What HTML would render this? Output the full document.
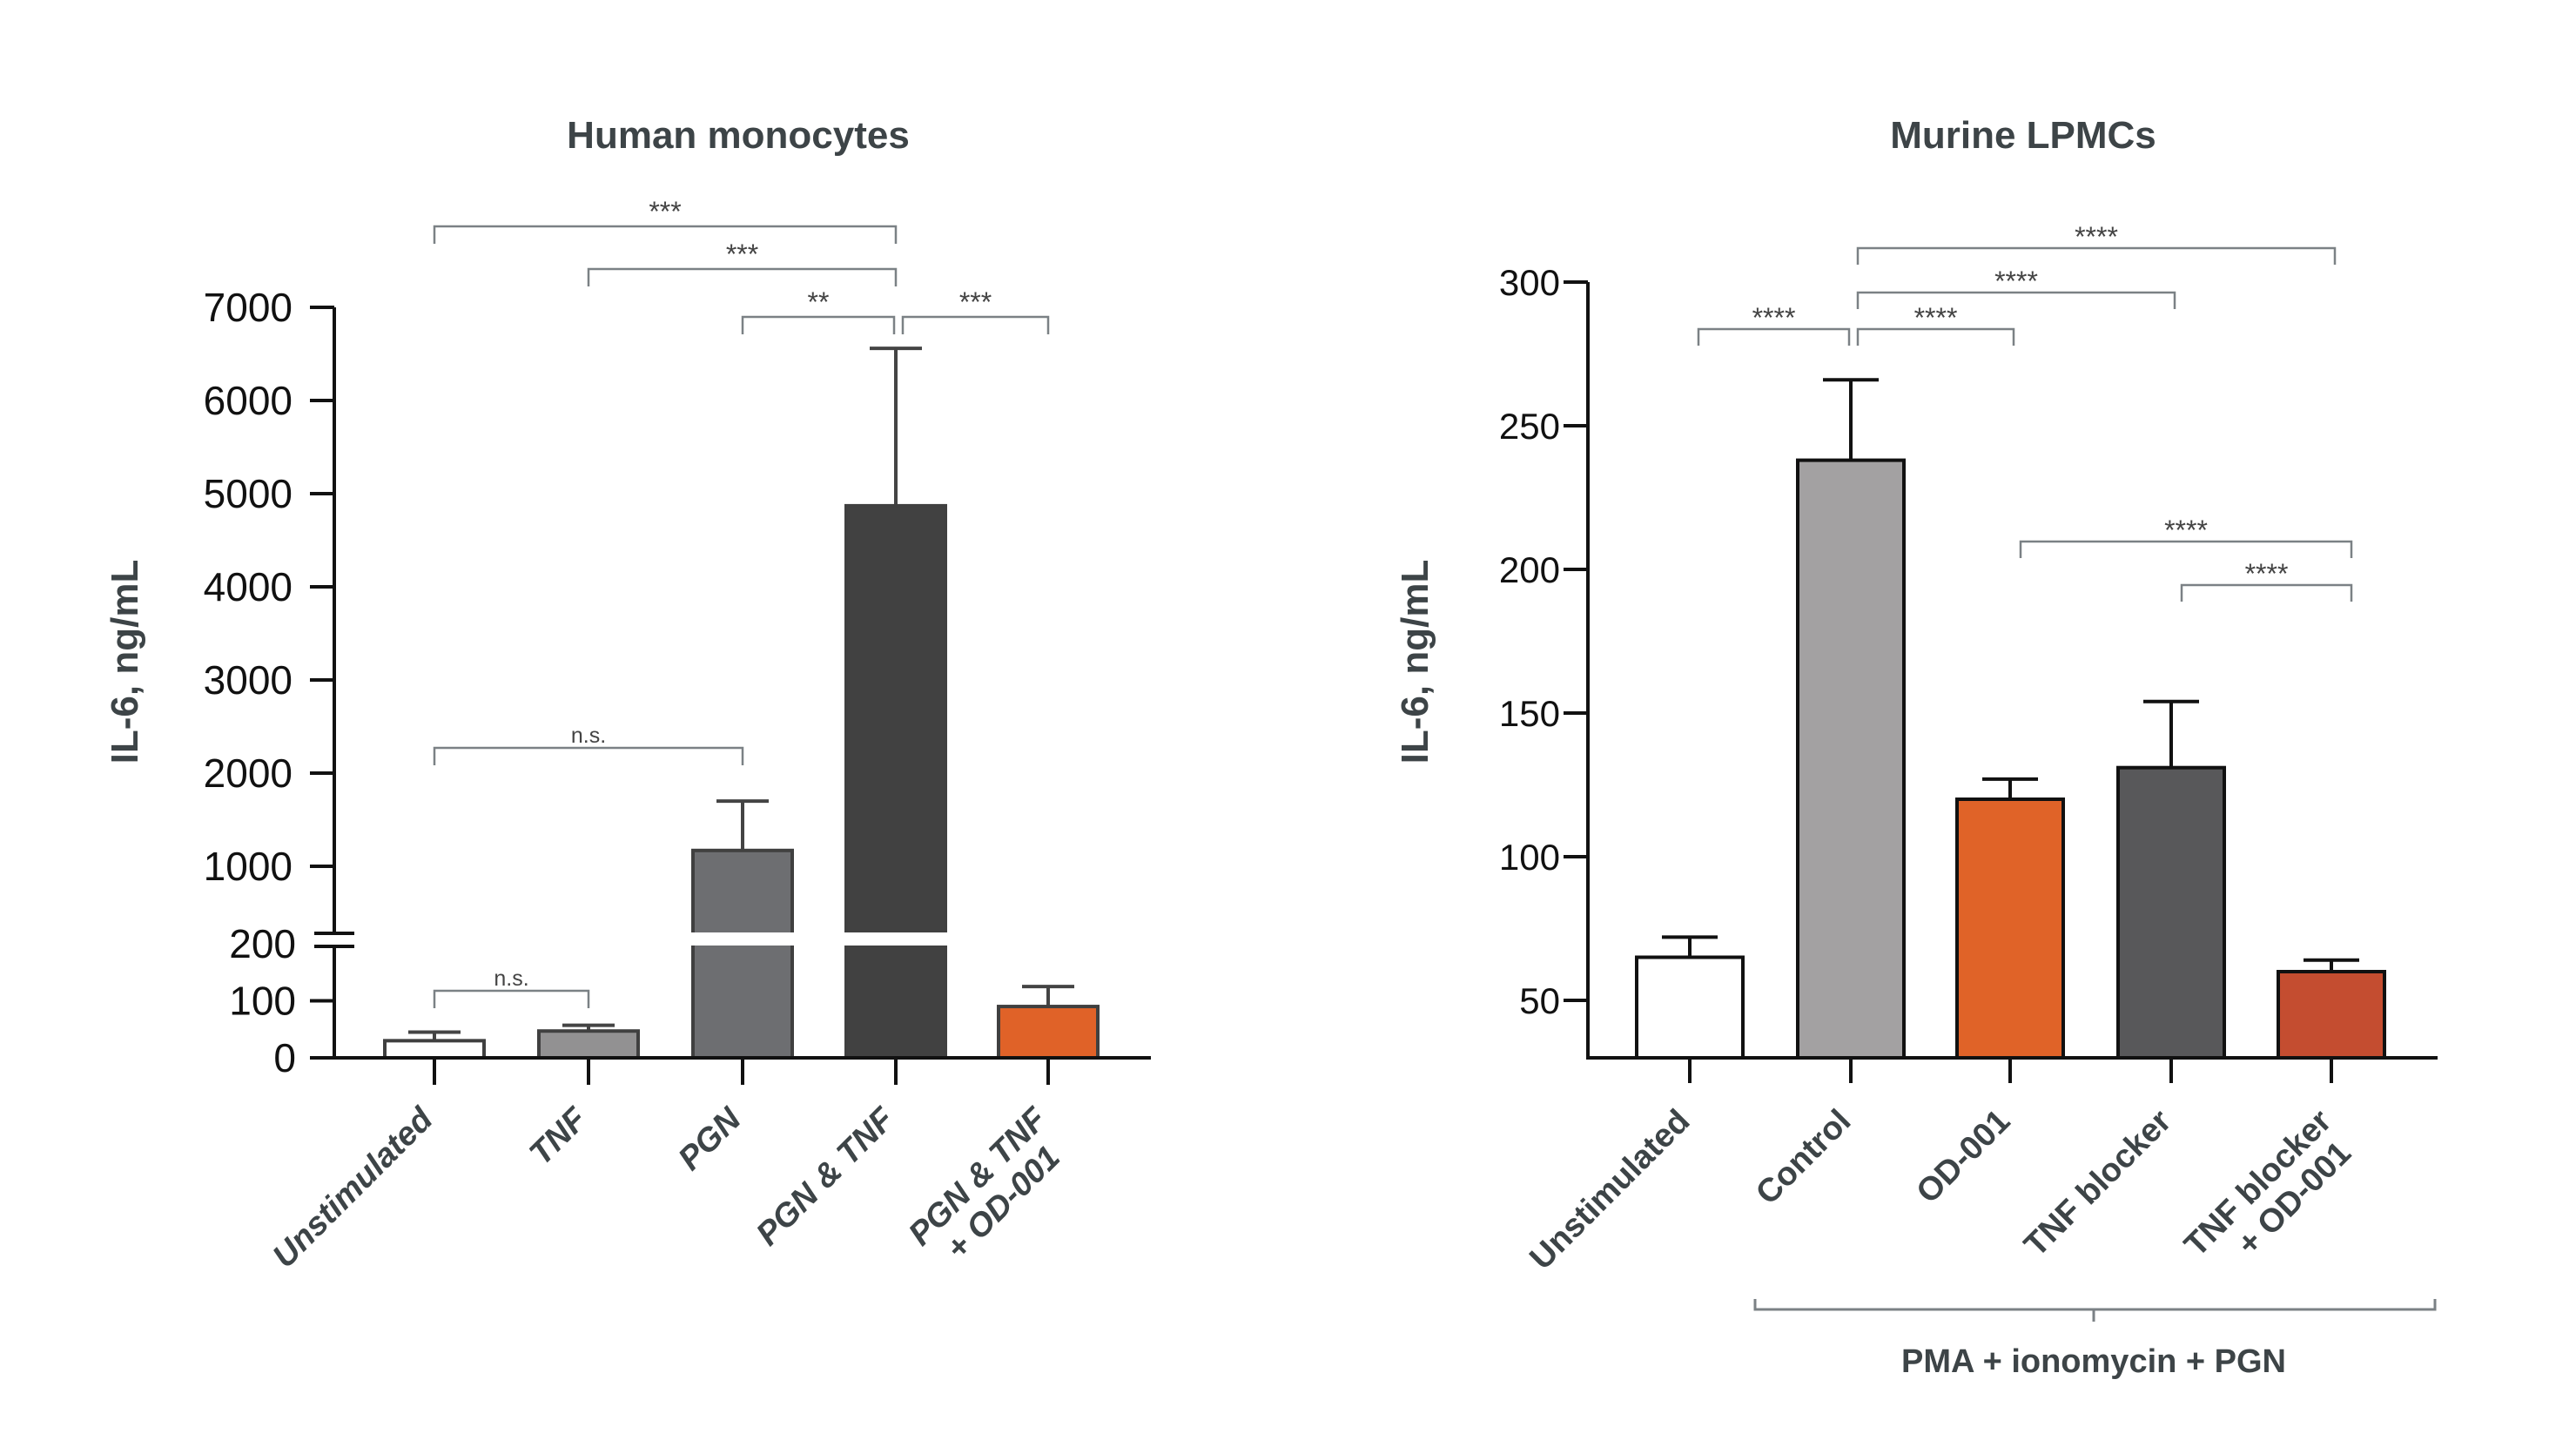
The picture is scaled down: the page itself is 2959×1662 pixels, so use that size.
<!DOCTYPE html>
<html><head><meta charset="utf-8">
<style>
html,body{margin:0;padding:0;background:#fff;}
svg{display:block;font-family:"Liberation Sans",Arial,sans-serif;}
</style></head>
<body>
<svg id="chart" width="2959" height="1662" viewBox="0 0 2959 1662" xmlns="http://www.w3.org/2000/svg"></svg>
<script>
// ---- Left chart data (Human monocytes) ----
const leftCategories = ["Unstimulated", "TNF", "PGN", "PGN & TNF", "PGN & TNF|+ OD-001"];
const leftValues = [30, 47, 1170, 4870, 90];
const leftErrors = [45, 57, 1700, 6560, 125];
const leftLowTicks = [0, 100, 200];
const leftHighTicks = [1000, 2000, 3000, 4000, 5000, 6000, 7000];
const leftSig = [["***", 0, 3], ["***", 1, 3], ["**", 2, 3], ["***", 4, 3], ["n.s.", 0, 2], ["n.s.", 0, 1]];
// ---- Right chart data (Murine LPMCs) ----
const rightCategories = ["Unstimulated", "Control", "OD-001", "TNF blocker", "TNF blocker|+ OD-001"];
const rightValues = [65, 238, 120, 131, 60];
const rightErrors = [72, 266, 127, 154, 64];
const rightTicks = [50, 100, 150, 200, 250, 300];
const rightSig = [["****", 0, 1], ["****", 1, 2], ["****", 1, 3], ["****", 1, 4], ["****", 2, 4], ["****", 3, 4]];

const svg = document.getElementById('chart');
const NS = "http://www.w3.org/2000/svg";
function mk(tag, attrs, parent) {
  const e = document.createElementNS(NS, tag);
  for (const k in attrs) e.setAttribute(k, attrs[k]);
  (parent || svg).appendChild(e);
  return e;
}
const TXT = "#3d4447", BR = "#7b8185";

// ===== LEFT =====
const L = {ax: 384, x0: 371, x1: 1322, base: 1215, centers: [499, 676, 853, 1029, 1204], bw: 114};
function lyLow(v) { return 1215 - v * 0.655; }
function lyHigh(v) { return 995 - (v - 1000) * 0.1070; }
function ly(v) { return v <= 200 ? lyLow(v) : lyHigh(v); }
const leftColors = ["#ffffff", "#929192", "#6d6e71", "#414141", "#e06228"];
const lg = mk('g', {});


let t = mk('text', {x: 848, y: 170, 'text-anchor': 'middle', 'font-size': 44, 'font-weight': 'bold', fill: TXT}, lg);
t.textContent = "Human monocytes";
 
t = mk('text', {x: 158, y: 760, 'text-anchor': 'middle', 'font-size': 44, 'font-weight': 'bold', fill: TXT, transform: 'rotate(-90 158 760)'}, lg);
t.textContent = "IL-6, ng/mL";
 
leftValues.forEach((v, i) => {
  const cx = L.centers[i], x = cx - L.bw / 2;
  const ey = ly(leftErrors[i]);
  const ln = mk('line', {x1: cx, x2: cx, y1: ly(v), y2: ey, stroke: "#444", 'stroke-width': 4}, lg);
   
  const cap = mk('line', {x1: cx - 30, x2: cx + 30, y1: ey, y2: ey, stroke: "#444", 'stroke-width': 4}, lg);
   
  const yt = ly(v);
  const r = mk('rect', {x: x, y: yt, width: L.bw, height: L.base - yt, fill: leftColors[i], stroke: "#404040", 'stroke-width': 4}, lg);
  
  
  if (v > 200) {
    const gap = mk('rect', {x: x - 4, y: lyLow(200) - 13, width: L.bw + 8, height: 15, fill: "#fff"}, lg);
     
  }
});
let a = mk('path', {d: `M${L.ax} ${lyHigh(7000)} V${lyLow(200) - 12} M${L.ax} ${lyLow(200) + 4} V${L.base} M${L.x0} ${L.base} H${L.x1}`, stroke: "#111", 'stroke-width': 4, fill: 'none'}, lg);
 
a = mk('path', {d: `M${L.ax - 23} ${lyLow(200) - 12} h46 M${L.ax - 23} ${lyLow(200) + 3} h46`, stroke: "#111", 'stroke-width': 4}, lg);
 
leftLowTicks.concat(leftHighTicks).forEach(v => {
  const y = ly(v);
  if (v !== 200) {
    const tk = mk('line', {x1: L.ax - 28, x2: L.ax, y1: y, y2: y, stroke: "#111", 'stroke-width': 4}, lg);
     
  }
  const tl = mk('text', {x: v <= 200 ? 340 : 336, y: y + 16, 'text-anchor': 'end', 'font-size': 46, fill: "#111"}, lg);
  tl.textContent = v;
   
});
leftCategories.forEach((c, i) => {
  const cx = L.centers[i];
  const tk = mk('line', {x1: cx, x2: cx, y1: L.base, y2: 1246, stroke: "#111", 'stroke-width': 4}, lg);
   
  const parts = c.split('|');
  const tx = mk('text', {transform: `translate(${cx} 1288) rotate(-45)`, 'text-anchor': 'end', 'font-size': 38, 'font-weight': 'bold', 'font-style': 'italic', fill: TXT}, lg);
  parts.forEach((p, j) => {
    const s = mk('tspan', {x: j ? -20 : 0, dy: j ? 42 : 0}, tx); s.textContent = p;
  });
   
});
const leftBrY = [260, 309, 364, 364, 859, 1138];
leftSig.forEach((s, k) => {
  let x1 = Math.min(L.centers[s[1]], L.centers[s[2]]), x2 = Math.max(L.centers[s[1]], L.centers[s[2]]);
  if (k === 3) x1 += 8;
  if (k === 2) x2 -= 2;
  const y = leftBrY[k];
  const p = mk('path', {d: `M${x1} ${y + 20} V${y} H${x2} V${y + 20}`, stroke: BR, 'stroke-width': 2.5, fill: 'none'}, lg);
   
  const st = mk('text', {x: (x1 + x2) / 2, y: y - 6, 'text-anchor': 'middle', 'font-size': s[0] === 'n.s.' ? 25 : 32, fill: "#444"}, lg);
  st.textContent = s[0];
   
});

// ===== RIGHT =====
const R = {ax: 1824, x1: 2800, base: 1215, centers: [1941, 2126, 2309, 2494, 2678], bw: 122};
function ry(v) { return 1215 - (v - 30) * 3.30; }
const rightColors = ["#ffffff", "#a3a1a2", "#e06328", "#58585a", "#c44d30"];
const rg = mk('g', {});


t = mk('text', {x: 2324, y: 170, 'text-anchor': 'middle', 'font-size': 44, 'font-weight': 'bold', fill: TXT}, rg);
t.textContent = "Murine LPMCs";
 
t = mk('text', {x: 1640, y: 760, 'text-anchor': 'middle', 'font-size': 44, 'font-weight': 'bold', fill: TXT, transform: 'rotate(-90 1640 760)'}, rg);
t.textContent = "IL-6, ng/mL";
 
rightValues.forEach((v, i) => {
  const cx = R.centers[i], x = cx - R.bw / 2, ey = ry(rightErrors[i]);
  const ln = mk('line', {x1: cx, x2: cx, y1: ry(v), y2: ey, stroke: "#111", 'stroke-width': 4}, rg);
   
  const cap = mk('line', {x1: cx - 32, x2: cx + 32, y1: ey, y2: ey, stroke: "#111", 'stroke-width': 4}, rg);
   
  const yt = ry(v);
  const r = mk('rect', {x: x, y: yt, width: R.bw, height: R.base - yt, fill: rightColors[i], stroke: "#111", 'stroke-width': 4}, rg);
  
  
});
a = mk('path', {d: `M${R.ax} ${ry(300)} V${R.base} H${R.x1}`, stroke: "#111", 'stroke-width': 4, fill: 'none'}, rg);
 
rightTicks.forEach(v => {
  const y = ry(v);
  const tk = mk('line', {x1: R.ax - 28, x2: R.ax, y1: y, y2: y, stroke: "#111", 'stroke-width': 4}, rg);
   
  const tl = mk('text', {x: 1792, y: y + 15, 'text-anchor': 'end', 'font-size': 42, fill: "#111"}, rg);
  tl.textContent = v;
   
});
rightCategories.forEach((c, i) => {
  const cx = R.centers[i];
  const tk = mk('line', {x1: cx, x2: cx, y1: R.base, y2: 1244, stroke: "#111", 'stroke-width': 4}, rg);
   
  const parts = c.split('|');
  const tx = mk('text', {transform: `translate(${cx + 2} 1290) rotate(-45)`, 'text-anchor': 'end', 'font-size': 38, 'font-weight': 'bold', fill: TXT}, rg);
  parts.forEach((p, j) => {
    const s = mk('tspan', {x: j ? -10 : 0, dy: j ? 42 : 0}, tx); s.textContent = p;
  });
   
});
const rightBrY = [378, 378, 336, 285, 622, 672];
rightSig.forEach((s, k) => {
  let x1 = R.centers[s[1]] + 6, x2 = R.centers[s[2]] - 2;
  if (k === 0) { x1 = R.centers[0] + 10; x2 = R.centers[1] - 2; }
  if (k >= 1 && k <= 3) { x1 = R.centers[1] + 8; x2 = R.centers[s[2]] + 4; }
  if (k >= 4) { x1 = R.centers[s[1]] + 12; x2 = R.centers[s[2]] + 23; }
  const y = rightBrY[k];
  const p = mk('path', {d: `M${x1} ${y + 19} V${y} H${x2} V${y + 19}`, stroke: BR, 'stroke-width': 2.5, fill: 'none'}, rg);
   
  const st = mk('text', {x: (x1 + x2) / 2, y: y - 2, 'text-anchor': 'middle', 'font-size': 32, fill: "#444"}, rg);
  st.textContent = s[0];
   
});
const brace = mk('path', {d: 'M2016 1492 V1504 H2797 V1492 M2405 1504 V1518', stroke: BR, 'stroke-width': 3, fill: 'none'}, rg);
 
t = mk('text', {x: 2405, y: 1576, 'text-anchor': 'middle', 'font-size': 38, 'font-weight': 'bold', fill: TXT}, rg);
t.textContent = "PMA + ionomycin + PGN";
 
</script>
</body></html>
